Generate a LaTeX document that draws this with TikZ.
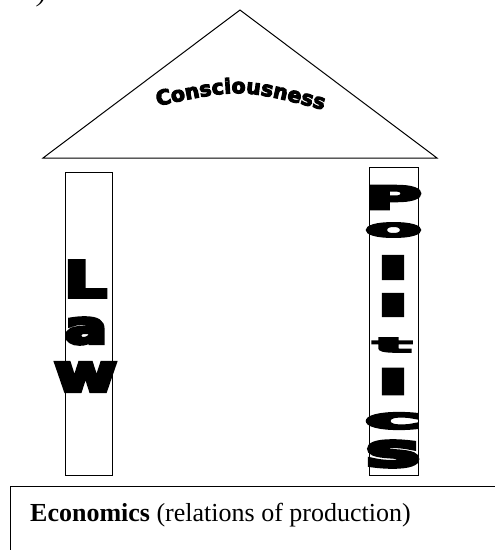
\documentclass[tikz,border=0pt]{standalone}
\usepackage{fontspec}
\usepackage{graphicx}
\usetikzlibrary{decorations.text}
\setmainfont{Liberation Serif}
\newfontfamily\heavy{DejaVu Sans}[UprightFont=* Bold, FakeBold=8]
\newfontfamily\roofont{DejaVu Sans}[UprightFont=* Bold, FakeBold=5]
\newcommand\fitchar[3]{\resizebox*{#1pt}{#2pt}{\heavy #3}}
\tikzset{
  line/.style={draw=black, line width=1pt},
  pillar/.style={line, rectangle, inner sep=0pt},
  glyph/.style={inner sep=0pt, anchor=center},
}
\begin{document}
\begin{tikzpicture}[x=1pt, y=-1pt]
\useasboundingbox (0,0) rectangle (495,550);
\clip (0,0) rectangle (495,550);
% fragment of text above
\node[inner sep=0pt, anchor=base, font=\itshape\fontsize{26}{30}\selectfont] (frag) at (42,1.5) {)};
% roof
\coordinate (apex) at (240,10);
\coordinate (bl) at (43,158);
\coordinate (br) at (437,158);
\draw[line, line join=miter] (bl) -- (apex) -- (br) -- cycle;
\path[decorate, decoration={text along path, text align=center,
  text={|\roofont\fontsize{20.5}{20.5}\selectfont|Consciousness}}]
  (153,107) .. controls (240,88) .. (328,111);
% pillars
\node[pillar, minimum width=47pt, minimum height=303pt] (law) at (88.5,323.5) {};
\node[pillar, minimum width=49pt, minimum height=308pt] (pol) at (393.5,321) {};
% Law letters
\node[glyph] (lawL) at (85.5,279) {\fitchar{42}{36}{L}};
\node[glyph] (lawa) at (86,331) {\fitchar{42}{26}{a}};
\node[glyph] (laww) at (85.5,377) {\fitchar{62}{28}{w}};
% Politics letters
\node[glyph] (p1) at (393.5,197.5) {\fitchar{56}{23}{P}};
\node[glyph] (p2) at (393.5,230) {\fitchar{56}{14}{o}};
\node[glyph] (p3) at (393,267.5) {\fitchar{30}{23}{l}};
\node[glyph] (p4) at (393,305) {\fitchar{30}{22}{i}};
\node[glyph] (p5) at (392.5,345) {\fitchar{38}{14}{t}};
\node[glyph] (p6) at (393,381.5) {\fitchar{30}{25}{i}};
\node[glyph] (p7) at (393.5,421) {\fitchar{56}{16}{c}};
\node[glyph] (p8) at (393,454) {\fitchar{54}{26}{s}};
% base
\node[pillar, anchor=north west, minimum width=520pt, minimum height=90pt] (econ) at (10,486) {};
\node[inner sep=0pt, anchor=base west, font=\fontsize{26}{30}\selectfont] (econtext) at (30,521.5) {\textbf{Economics} (relations of production)};
\end{tikzpicture}
\end{document}
